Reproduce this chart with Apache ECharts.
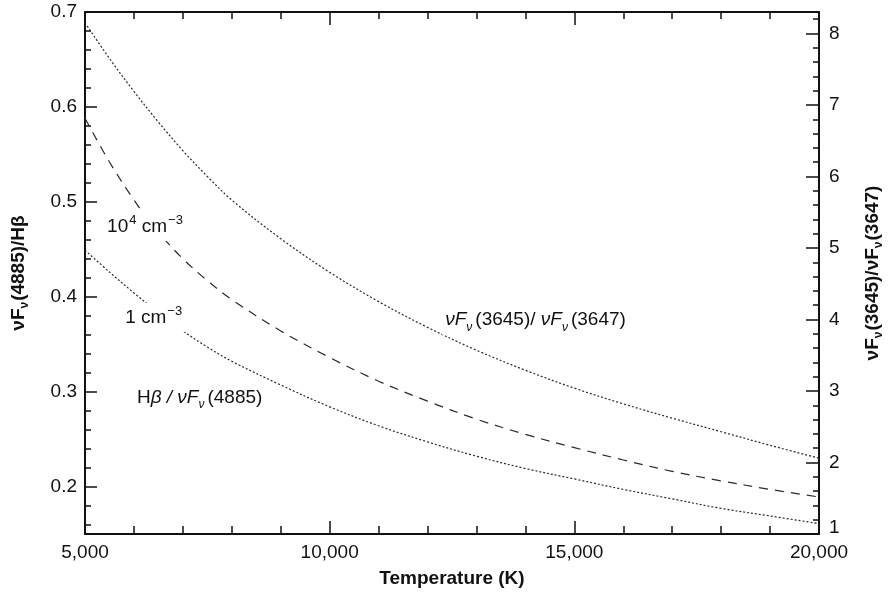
<!DOCTYPE html>
<html>
<head>
<meta charset="utf-8">
<script src="https://cdn.jsdelivr.net/npm/echarts@6/dist/echarts.min.js"></script>
<style>
  html, body { margin: 0; padding: 0; background: #fff; }
  #chart { width: 893px; height: 593px; }
</style>
</head>
<body>
<div id="chart"></div>
<script>
const chart = echarts.init(document.getElementById('chart'))
const font = '"Liberation Sans", Arial, Helvetica, sans-serif'
const ink = '#111'

// temperatures (K)
const temps = [5000, 5500, 6000, 6500, 7000, 7500, 8000, 9000, 10000, 11000, 12000, 13000, 14000, 15000, 16000, 17000, 18000, 19000, 20000]
// νFν(3645)/νFν(3647)  (right axis)
const jumpRatio = [8.15, 7.65, 7.19, 6.76, 6.36, 6.00, 5.67, 5.13, 4.66, 4.25, 3.89, 3.57, 3.29, 3.04, 2.82, 2.62, 2.43, 2.24, 2.06]
// Hβ/νFν(4885) at 10^4 cm^-3  (left axis)
const hbHigh = [0.588, 0.542, 0.502, 0.468, 0.440, 0.417, 0.397, 0.364, 0.336, 0.311, 0.290, 0.271, 0.255, 0.241, 0.228, 0.216, 0.206, 0.197, 0.189]
// Hβ/νFν(4885) at 1 cm^-3  (left axis)
const hbLow = [0.449, 0.426, 0.404, 0.383, 0.364, 0.347, 0.332, 0.307, 0.284, 0.264, 0.247, 0.232, 0.219, 0.208, 0.197, 0.187, 0.177, 0.169, 0.161]

// annotation texts and where they sit, in data units
const noteHigh = { text: '{n|10}{sup|4}{n| cm}{sup|−3}', at: [5380, 0.474] }
const noteLow = { text: '{n|1 cm}{sup|−3}', at: [5750, 0.378] }
const noteHb = { text: '{n|H}{i|β / νF}{s|ν}{n|(4885)}', at: [5990, 0.294] }
const noteJump = { text: '{i|νF}{s|ν}{n|(3645)/ }{i|νF}{s|ν}{n|(3647)}', at: [12290, 3.99] }

const pair = (ys) => temps.map((t, i) => [t, ys[i]])
const thousands = (v) => String(v).replace(/\B(?=(\d{3})+(?!\d))/g, ',')

const noteRich = {
  n: { fontFamily: font, fontSize: 19, color: ink },
  i: { fontFamily: font, fontSize: 19, fontStyle: 'italic', color: ink },
  s: { fontFamily: font, fontSize: 12, fontStyle: 'italic', color: ink, padding: [14, 3, 0, 0] },
  sup: { fontFamily: font, fontSize: 13, color: ink, padding: [0, 0, 12, 1] },
}

const nameRich = {
  a: { fontFamily: font, fontSize: 19, fontWeight: 'bold', color: ink },
  s: { fontFamily: font, fontSize: 12, fontWeight: 'bold', color: ink, padding: [13, 1, 0, 0] },
}

function note(n) {
  return {
    coord: n.at,
    symbol: 'circle',
    symbolSize: 1,
    itemStyle: { color: 'rgba(0,0,0,0)' },
    label: {
      show: true,
      position: 'right',
      distance: 0,
      formatter: n.text,
      rich: noteRich,
      backgroundColor: '#fff',
      padding: [2, 3],
    },
  }
}

const tickStyle = { color: ink, width: 1.5 }
const lineAxis = { lineStyle: { color: ink, width: 2 } }
const curve = { smooth: 0.35, showSymbol: false, xAxisIndex: 0, type: 'line' }

const option = {
  animation: false,
  grid: { left: 85, right: 67, top: 12, bottom: 59 },
  xAxis: [
    {
      type: 'value',
      position: 'bottom',
      min: 5000,
      max: 20000,
      interval: 5000,
      name: 'Temperature (K)',
      nameLocation: 'middle',
      nameGap: 35,
      nameTextStyle: { fontFamily: font, fontSize: 19, fontWeight: 'bold', color: ink },
      axisLine: lineAxis,
      axisTick: { inside: true, length: 13, lineStyle: tickStyle },
      minorTick: { show: true, splitNumber: 5, length: 8, lineStyle: tickStyle },
      axisLabel: { formatter: thousands, fontFamily: font, fontSize: 19, color: ink, margin: 9 },
      splitLine: { show: false },
    },
    {
      type: 'value',
      position: 'top',
      min: 5000,
      max: 20000,
      interval: 5000,
      axisLine: lineAxis,
      axisTick: { inside: true, length: 13, lineStyle: tickStyle },
      minorTick: { show: true, splitNumber: 5, length: 7, lineStyle: tickStyle },
      axisLabel: { show: false },
      splitLine: { show: false },
    },
  ],
  yAxis: [
    {
      type: 'value',
      position: 'left',
      min: 0.15,
      max: 0.7,
      splitNumber: 5,
      name: '{a|νF}{s|ν}{a|(4885)/Hβ}',
      nameLocation: 'middle',
      nameGap: 54,
      nameTextStyle: { rich: nameRich },
      axisLine: lineAxis,
      axisTick: { inside: true, length: 12, lineStyle: tickStyle },
      minorTick: { show: true, splitNumber: 5, length: 6, lineStyle: tickStyle },
      axisLabel: {
        formatter: (v) => (Math.abs(v * 10 - Math.round(v * 10)) < 1e-6 ? v.toFixed(1) : ''),
        fontFamily: font,
        fontSize: 19,
        color: ink,
        margin: 8,
      },
      splitLine: { show: false },
    },
    {
      type: 'value',
      position: 'right',
      min: 1,
      max: 8.3,
      interval: 1,
      name: '{a|νF}{s|ν}{a|(3645)/νF}{s|ν}{a|(3647)}',
      nameLocation: 'middle',
      nameGap: 41,
      nameTextStyle: { rich: nameRich },
      axisLine: lineAxis,
      axisTick: { inside: true, length: 13, lineStyle: tickStyle },
      minorTick: { show: true, splitNumber: 5, length: 6, lineStyle: tickStyle },
      axisLabel: {
        formatter: (v) => (Number.isInteger(v) ? (v === 1 ? '{b|1}' : String(v)) : ''),
        fontFamily: font,
        fontSize: 19,
        color: ink,
        margin: 10,
        rich: { b: { fontFamily: font, fontSize: 19, color: ink, padding: [0, 0, 12, 0] } },
      },
      splitLine: { show: false },
    },
  ],
  series: [
    {
      ...curve,
      name: 'νFν(3645)/νFν(3647)',
      yAxisIndex: 1,
      data: pair(jumpRatio),
      lineStyle: { color: '#2a2a2a', width: 1.2, type: [2, 2] },
      markPoint: { data: [note(noteJump)] },
    },
    {
      ...curve,
      name: '10^4 cm^-3',
      yAxisIndex: 0,
      data: pair(hbHigh),
      lineStyle: { color: '#2a2a2a', width: 1.2, type: [9, 7] },
    },
    {
      ...curve,
      name: '1 cm^-3',
      yAxisIndex: 0,
      data: pair(hbLow),
      lineStyle: { color: '#2a2a2a', width: 1.2, type: [2, 2] },
      markPoint: { data: [note(noteHigh), note(noteLow), note(noteHb)] },
    },
  ],
}

chart.setOption(option)
</script>
</body>
</html>
